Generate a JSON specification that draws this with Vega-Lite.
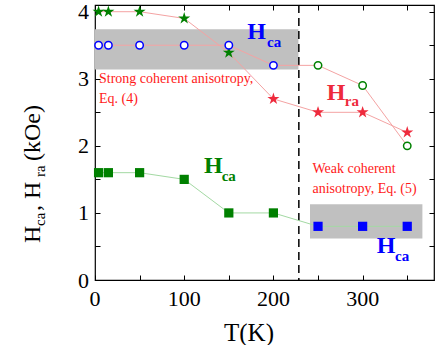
{
  "$schema": "https://vega.github.io/schema/vega-lite/v6.json",
  "width": 339,
  "height": 275,
  "autosize": "none",
  "padding": {"left": 95, "top": 5, "right": 3, "bottom": 65},
  "background": "white",
  "config": {
    "font": "Liberation Serif",
    "view": {"stroke": "black", "strokeWidth": 1.2}
  },
  "datasets": {
    "points": [
      {"curve": "Hra", "regime": "strong", "T": 4, "H": 4.0},
      {"curve": "Hra", "regime": "strong", "T": 15, "H": 4.0},
      {"curve": "Hra", "regime": "strong", "T": 50, "H": 4.0},
      {"curve": "Hra", "regime": "strong", "T": 100, "H": 3.9},
      {"curve": "Hra", "regime": "strong", "T": 150, "H": 3.39},
      {"curve": "Hra", "regime": "weak", "T": 200, "H": 2.7},
      {"curve": "Hra", "regime": "weak", "T": 250, "H": 2.5},
      {"curve": "Hra", "regime": "weak", "T": 300, "H": 2.5},
      {"curve": "Hra", "regime": "weak", "T": 350, "H": 2.2},
      {"curve": "Hca1", "regime": "strong", "T": 4, "H": 3.5},
      {"curve": "Hca1", "regime": "strong", "T": 15, "H": 3.5},
      {"curve": "Hca1", "regime": "strong", "T": 50, "H": 3.5},
      {"curve": "Hca1", "regime": "strong", "T": 100, "H": 3.5},
      {"curve": "Hca1", "regime": "strong", "T": 150, "H": 3.5},
      {"curve": "Hca1", "regime": "strong", "T": 200, "H": 3.2},
      {"curve": "Hca1", "regime": "weak", "T": 250, "H": 3.2},
      {"curve": "Hca1", "regime": "weak", "T": 300, "H": 2.9},
      {"curve": "Hca1", "regime": "weak", "T": 350, "H": 2.0},
      {"curve": "Hca2", "regime": "strong", "T": 4, "H": 1.6},
      {"curve": "Hca2", "regime": "strong", "T": 15, "H": 1.6},
      {"curve": "Hca2", "regime": "strong", "T": 50, "H": 1.6},
      {"curve": "Hca2", "regime": "strong", "T": 100, "H": 1.5},
      {"curve": "Hca2", "regime": "strong", "T": 150, "H": 1.0},
      {"curve": "Hca2", "regime": "strong", "T": 200, "H": 1.0},
      {"curve": "Hca2", "regime": "weak", "T": 250, "H": 0.8},
      {"curve": "Hca2", "regime": "weak", "T": 300, "H": 0.8},
      {"curve": "Hca2", "regime": "weak", "T": 350, "H": 0.8}
    ],
    "bands": [
      {"T0": 0, "T1": 228, "H0": 3.14, "H1": 3.74},
      {"T0": 241, "T1": 367, "H0": 0.62, "H1": 1.13}
    ],
    "divider": [{"T": 228.5}],
    "xticks": [{"T": 0}, {"T": 100}, {"T": 200}, {"T": 300}],
    "yticks": [{"H": 0}, {"H": 1}, {"H": 2}, {"H": 3}, {"H": 4}],
    "xtitle": [{"text": "T(K)", "T": 172.6}],
    "labels": [
      {"curve": "Hca1", "regime": "strong", "part": "main", "text": "H", "T": 170.7, "H": 3.6},
      {"curve": "Hca1", "regime": "strong", "part": "sub", "text": "ca", "T": 192.8, "H": 3.48},
      {"curve": "Hra", "regime": "weak", "part": "main", "text": "H", "T": 259.8, "H": 2.684},
      {"curve": "Hra", "regime": "weak", "part": "sub", "text": "ra", "T": 280, "H": 2.6},
      {"curve": "Hca2", "regime": "strong", "part": "main", "text": "H", "T": 122.2, "H": 1.591},
      {"curve": "Hca2", "regime": "strong", "part": "sub", "text": "ca", "T": 142, "H": 1.48},
      {"curve": "Hca2", "regime": "weak", "part": "main", "text": "H", "T": 315.8, "H": 0.398},
      {"curve": "Hca2", "regime": "weak", "part": "sub", "text": "ca", "T": 336.3, "H": 0.288}
    ],
    "notes": [
      {"text": "Strong coherent anisotropy,\nEq. (4)", "T": 4.5, "H": 2.93},
      {"text": "Weak coherent\nanisotropy, Eq. (5)", "T": 243.8, "H": 1.59}
    ],
    "ytitle": [
      {"part": "main", "text": "H", "T": -62.2, "H": 0.552},
      {"part": "sub", "text": "ca", "T": -56.1, "H": 0.805},
      {"part": "main", "text": ", H", "T": -62.2, "H": 1.029},
      {"part": "sub", "text": "ra", "T": -56.1, "H": 1.536},
      {"part": "main", "text": "(kOe)", "T": -62.2, "H": 1.774}
    ]
  },
  "resolve": {"axis": {"x": "independent", "y": "independent"}},
  "layer": [
    {
      "data": {"name": "bands"},
      "mark": {"type": "rect", "color": "#c0c0c0"},
      "encoding": {
        "x": {"field": "T0", "type": "quantitative", "scale": {"domain": [0, 380], "nice": false, "zero": false},
              "axis": {"orient": "top", "values": [0, 50, 100, 150, 200, 250, 300, 350], "labels": false, "title": null, "grid": false, "domain": false, "tickSize": -5, "tickColor": "black", "tickWidth": 1}},
        "x2": {"field": "T1"},
        "y": {"field": "H0", "type": "quantitative", "scale": {"domain": [0, 4.1], "nice": false},
              "axis": {"orient": "right", "values": [0, 0.5, 1, 1.5, 2, 2.5, 3, 3.5, 4], "labels": false, "title": null, "grid": false, "domain": false, "tickSize": -5, "tickColor": "black", "tickWidth": 1}},
        "y2": {"field": "H1"}
      }
    },
    {
      "data": {"name": "divider"},
      "mark": {"type": "rule", "color": "black", "strokeWidth": 1.5, "strokeDash": [8, 5]},
      "encoding": {
        "x": {"field": "T", "type": "quantitative", "scale": {"domain": [0, 380], "nice": false, "zero": false}, "axis": null}
      }
    },
    {
      "data": {"name": "points"},
      "transform": [{"filter": "datum.curve !== 'Hca2'"}],
      "mark": {"type": "line", "color": "#f4a3a3", "strokeWidth": 1},
      "encoding": {
        "x": {"field": "T", "type": "quantitative", "scale": {"domain": [0, 380], "nice": false, "zero": false},
              "axis": {"orient": "bottom", "values": [0, 50, 100, 150, 200, 250, 300, 350], "labels": false, "title": null,
                       "grid": false, "domain": false, "tickSize": -5, "tickColor": "black", "tickWidth": 1}},
        "y": {"field": "H", "type": "quantitative", "scale": {"domain": [0, 4.1], "nice": false},
              "axis": {"orient": "left", "values": [0, 0.5, 1, 1.5, 2, 2.5, 3, 3.5, 4], "labels": false, "title": null,
                       "grid": false, "domain": false, "tickSize": -5, "tickColor": "black", "tickWidth": 1}},
        "detail": {"field": "curve"},
        "order": {"field": "T"}
      }
    },
    {
      "data": {"name": "points"},
      "transform": [{"filter": "datum.curve === 'Hca2'"}],
      "mark": {"type": "line", "color": "#a3d9a3", "strokeWidth": 1},
      "encoding": {
        "x": {"field": "T", "type": "quantitative", "axis": null},
        "y": {"field": "H", "type": "quantitative", "axis": null},
        "order": {"field": "T"}
      }
    },
    {
      "data": {"name": "points"},
      "transform": [{"filter": "datum.curve === 'Hra'"}],
      "mark": {"type": "point", "shape": "M0,-1L0.225,-0.309L0.951,-0.309L0.363,0.118L0.588,0.809L0,0.382L-0.588,0.809L-0.363,0.118L-0.951,-0.309L-0.225,-0.309Z", "filled": true, "size": 160, "opacity": 1, "strokeWidth": 0},
      "encoding": {
        "x": {"field": "T", "type": "quantitative", "axis": null},
        "y": {"field": "H", "type": "quantitative", "axis": null},
        "fill": {"condition": [{"test": "datum.curve === 'Hra' && datum.regime === 'weak'", "value": "#ee2a3c"}, {"test": "(datum.curve === 'Hca1' && datum.regime === 'strong') || (datum.curve === 'Hca2' && datum.regime === 'weak')", "value": "#0000ff"}], "value": "#008000"}
      }
    },
    {
      "data": {"name": "points"},
      "transform": [{"filter": "datum.curve === 'Hca1'"}],
      "mark": {"type": "point", "shape": "circle", "filled": true, "fill": "white", "size": 55, "opacity": 1, "strokeWidth": 1.5},
      "encoding": {
        "x": {"field": "T", "type": "quantitative", "axis": null},
        "y": {"field": "H", "type": "quantitative", "axis": null},
        "stroke": {"condition": [{"test": "datum.curve === 'Hra' && datum.regime === 'weak'", "value": "#ee2a3c"}, {"test": "(datum.curve === 'Hca1' && datum.regime === 'strong') || (datum.curve === 'Hca2' && datum.regime === 'weak')", "value": "#0000ff"}], "value": "#008000"}
      }
    },
    {
      "data": {"name": "points"},
      "transform": [{"filter": "datum.curve === 'Hca2'"}],
      "mark": {"type": "point", "shape": "square", "filled": true, "size": 85, "opacity": 1, "strokeWidth": 0},
      "encoding": {
        "x": {"field": "T", "type": "quantitative", "axis": null},
        "y": {"field": "H", "type": "quantitative", "axis": null},
        "fill": {"condition": [{"test": "datum.curve === 'Hra' && datum.regime === 'weak'", "value": "#ee2a3c"}, {"test": "(datum.curve === 'Hca1' && datum.regime === 'strong') || (datum.curve === 'Hca2' && datum.regime === 'weak')", "value": "#0000ff"}], "value": "#008000"}
      }
    },
    {
      "data": {"name": "xticks"},
      "mark": {"type": "text", "font": "Liberation Serif", "fontSize": 22, "align": "center", "baseline": "alphabetic", "dy": 26, "color": "black"},
      "encoding": {
        "x": {"field": "T", "type": "quantitative", "axis": null},
        "y": {"datum": 0, "type": "quantitative", "axis": null},
        "text": {"field": "T", "type": "quantitative", "format": "d"}
      }
    },
    {
      "data": {"name": "yticks"},
      "mark": {"type": "text", "font": "Liberation Serif", "fontSize": 22, "align": "right", "baseline": "alphabetic", "dx": -6, "dy": 7.5, "color": "black"},
      "encoding": {
        "x": {"datum": 0, "type": "quantitative", "axis": null},
        "y": {"field": "H", "type": "quantitative", "axis": null},
        "text": {"field": "H", "type": "quantitative", "format": "d"}
      }
    },
    {
      "data": {"name": "xtitle"},
      "mark": {"type": "text", "font": "Liberation Serif", "fontSize": 25, "align": "center", "baseline": "alphabetic", "dy": 61, "color": "black"},
      "encoding": {
        "x": {"field": "T", "type": "quantitative", "axis": null},
        "y": {"datum": 0, "type": "quantitative", "axis": null},
        "text": {"field": "text"}
      }
    },
    {
      "data": {"name": "labels"},
      "transform": [{"filter": "datum.part === 'main'"}],
      "mark": {"type": "text", "font": "Liberation Serif", "fontWeight": "bold", "fontSize": 24, "align": "left", "baseline": "alphabetic"},
      "encoding": {
        "x": {"field": "T", "type": "quantitative", "axis": null},
        "y": {"field": "H", "type": "quantitative", "axis": null},
        "text": {"field": "text"},
        "color": {"condition": [{"test": "datum.curve === 'Hra' && datum.regime === 'weak'", "value": "#ee2a3c"}, {"test": "(datum.curve === 'Hca1' && datum.regime === 'strong') || (datum.curve === 'Hca2' && datum.regime === 'weak')", "value": "#0000ff"}], "value": "#008000"}
      }
    },
    {
      "data": {"name": "labels"},
      "transform": [{"filter": "datum.part === 'sub'"}],
      "mark": {"type": "text", "font": "Liberation Serif", "fontWeight": "bold", "fontSize": 15, "align": "left", "baseline": "alphabetic"},
      "encoding": {
        "x": {"field": "T", "type": "quantitative", "axis": null},
        "y": {"field": "H", "type": "quantitative", "axis": null},
        "text": {"field": "text"},
        "color": {"condition": [{"test": "datum.curve === 'Hra' && datum.regime === 'weak'", "value": "#ee2a3c"}, {"test": "(datum.curve === 'Hca1' && datum.regime === 'strong') || (datum.curve === 'Hca2' && datum.regime === 'weak')", "value": "#0000ff"}], "value": "#008000"}
      }
    },
    {
      "data": {"name": "notes"},
      "mark": {"type": "text", "font": "Liberation Serif", "fontSize": 14, "align": "left", "baseline": "alphabetic", "lineBreak": "\n", "lineHeight": 19.5, "color": "#ff1a1a"},
      "encoding": {
        "x": {"field": "T", "type": "quantitative", "axis": null},
        "y": {"field": "H", "type": "quantitative", "axis": null},
        "text": {"field": "text"}
      }
    },
    {
      "data": {"name": "ytitle"},
      "transform": [{"filter": "datum.part === 'main'"}],
      "mark": {"type": "text", "font": "Liberation Serif", "fontSize": 24, "angle": 270, "align": "left", "baseline": "alphabetic", "color": "black"},
      "encoding": {
        "x": {"field": "T", "type": "quantitative", "axis": null},
        "y": {"field": "H", "type": "quantitative", "axis": null},
        "text": {"field": "text"}
      }
    },
    {
      "data": {"name": "ytitle"},
      "transform": [{"filter": "datum.part === 'sub'"}],
      "mark": {"type": "text", "font": "Liberation Serif", "fontSize": 15, "angle": 270, "align": "left", "baseline": "alphabetic", "color": "black"},
      "encoding": {
        "x": {"field": "T", "type": "quantitative", "axis": null},
        "y": {"field": "H", "type": "quantitative", "axis": null},
        "text": {"field": "text"}
      }
    }
  ]
}
